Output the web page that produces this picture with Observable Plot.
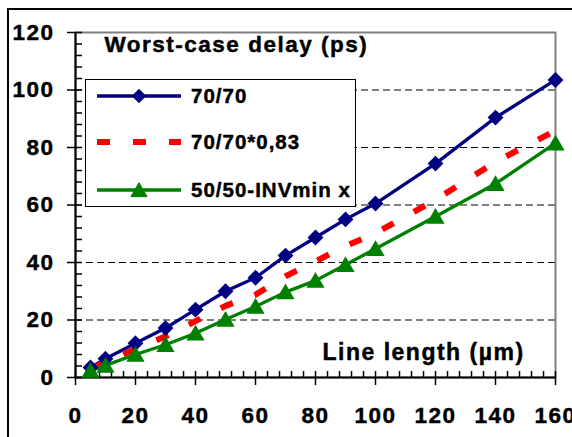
<!DOCTYPE html>
<html><head><meta charset="utf-8">
<script src="https://cdn.jsdelivr.net/npm/d3@7"></script>
<script src="https://cdn.jsdelivr.net/npm/@observablehq/plot@0.6"></script>
<style>
body{margin:0;background:#fff;}
#wrap{position:relative;width:572px;height:437px;overflow:hidden;background:#fff;}
#frame{position:absolute;left:7px;top:8px;width:700px;height:700px;border:2px solid #000;pointer-events:none;}
#legend{position:absolute;left:0;top:0;}
#chart svg text{letter-spacing:1.5px;stroke:#000;stroke-width:0.45px;fill:#000;}
#legend text{stroke:#000;stroke-width:0.45px;fill:#000;}
</style></head><body>
<div id="wrap"><div id="chart"></div><svg id="legend" width="572" height="437"></svg><div id="frame"></div></div>
<script>
const lengths = [5, 10, 20, 30, 40, 50, 60, 70, 80, 90, 100, 120, 140, 160];
const delay7070 = [3.5, 6.5, 11.9, 17.2, 23.6, 30.0, 34.7, 42.4, 48.7, 55.0, 60.5, 74.4, 90.4, 103.5];
const delay7070scaled = [2.9, 5.4, 9.9, 14.3, 19.6, 24.9, 28.8, 35.2, 40.4, 45.7, 50.2, 61.8, 75.0, 85.9];
const delayINV = [2.4, 4.2, 8.0, 11.4, 15.4, 20.2, 24.7, 29.7, 33.7, 39.2, 44.8, 56.0, 67.4, 81.5];
const seriesNames = ["70/70", "70/70*0,83", "50/50-INVmin x"];
const xTicks = [0, 20, 40, 60, 80, 100, 120, 140, 160];
const yTicks = [0, 20, 40, 60, 80, 100, 120];
const gridValues = [20, 40, 60, 80, 100];
const titleText = "Worst-case delay (ps)";
const xLabelText = "Line length (µm)";

const xMinor = d3.range(0, 161, 4).filter(d => d % 20 !== 0);
const yMinor = d3.range(0, 121, 4).filter(d => d % 20 !== 0);

const rows = (ys) => lengths.map((x, i) => ({x, y: ys[i]}));
const blue = "#000080", red = "#ff0000", green = "#008000";

const W = 572, H = 437, mL = 75, mR = 17, mT = 32, mB = 60;
const pw = W - mL - mR, ph = H - mT - mB;

const chart = Plot.plot({
  width: W, height: H,
  marginLeft: mL, marginRight: mR, marginTop: mT, marginBottom: mB,
  style: {fontFamily: "'Liberation Sans', Arial, sans-serif", fontSize: "22.5px", fontWeight: "bold", color: "#000", background: "#fff"},
  x: {domain: [0, 160]},
  y: {domain: [0, 120]},
  marks: [
    Plot.ruleY(gridValues, {stroke: "#000", strokeWidth: 1, strokeDasharray: "7,4"}),
    Plot.frame({stroke: "#808080", strokeWidth: 2}),
    Plot.ruleX([0], {stroke: "#000", strokeWidth: 2}),
    Plot.ruleY([0], {stroke: "#000", strokeWidth: 2}),
    Plot.tickY(yTicks, {y: d => d, insetLeft: -8, insetRight: pw - 7, stroke: "#000", strokeWidth: 1.5}),
    Plot.tickY(yMinor, {y: d => d, insetLeft: 0, insetRight: pw - 7, stroke: "#000", strokeWidth: 1.5}),
    Plot.tickX(xTicks, {x: d => d, insetTop: ph - 6, insetBottom: -8, stroke: "#000", strokeWidth: 1.5}),
    Plot.tickX(xMinor, {x: d => d, insetTop: ph - 6, insetBottom: 0, stroke: "#000", strokeWidth: 1.5}),
    Plot.axisY({ticks: yTicks, tickSize: 0, tickPadding: 21, label: null, tickFormat: d => d}),
    Plot.axisX({ticks: xTicks, tickSize: 0, tickPadding: 30, label: null, tickFormat: d => d}),
    Plot.line(rows(delay7070), {x: "x", y: "y", stroke: blue, strokeWidth: 3.3}),
    Plot.line(rows(delay7070scaled), {x: "x", y: "y", stroke: red, strokeWidth: 6, strokeDasharray: "13,23", strokeLinecap: "butt"}),
    Plot.line(rows(delayINV), {x: "x", y: "y", stroke: green, strokeWidth: 3.3}),
    Plot.dot(rows(delay7070), {x: "x", y: "y", symbol: "diamond2", r: 6.2, fill: blue, stroke: blue}),
    Plot.dot(rows(delayINV), {x: "x", y: "y", symbol: "triangle", r: 5.8, dy: 2, fill: green, stroke: green}),
    Plot.text([titleText], {frameAnchor: "top-left", text: d => d, textAnchor: "start", lineAnchor: "top", dx: 29, dy: 4, fontSize: 22.5}),
    Plot.text([xLabelText], {frameAnchor: "bottom-left", text: d => d, textAnchor: "start", lineAnchor: "top", dx: 247, dy: -34, fontSize: 23})
  ]
});
document.getElementById("chart").appendChild(chart);

// Legend
const lg = d3.select("#legend");
lg.append("rect").attr("x", 85.5).attr("y", 79.5).attr("width", 270).attr("height", 127)
  .attr("fill", "#fff").attr("stroke", "#000").attr("stroke-width", 1);
const items = [
  {name: seriesNames[0], color: blue, dash: null, w: 3.3, sym: d3.symbolDiamond2, y: 96},
  {name: seriesNames[1], color: red, dash: "13,23", w: 6, sym: null, y: 142},
  {name: seriesNames[2], color: green, dash: null, w: 3.3, sym: d3.symbolTriangle, y: 190}
];
for (const it of items) {
  lg.append("line").attr("x1", 97).attr("x2", 181).attr("y1", it.y).attr("y2", it.y)
    .attr("stroke", it.color).attr("stroke-width", it.w).attr("stroke-dasharray", it.dash);
  if (it.sym) {
    lg.append("path").attr("d", d3.symbol(it.sym, Math.PI * 6 * 6)())
      .attr("transform", `translate(139,${it.y + (it.sym === d3.symbolTriangle ? 2 : 0)})`)
      .attr("fill", it.color).attr("stroke", it.color);
  }
  lg.append("text").attr("x", 191).attr("y", it.y).attr("dy", "0.36em")
    .attr("font-family", "'Liberation Sans', Arial, sans-serif").attr("font-size", 20.5)
    .attr("font-weight", "bold").attr("letter-spacing", "1px").text(it.name);
}
</script>
</body></html>
